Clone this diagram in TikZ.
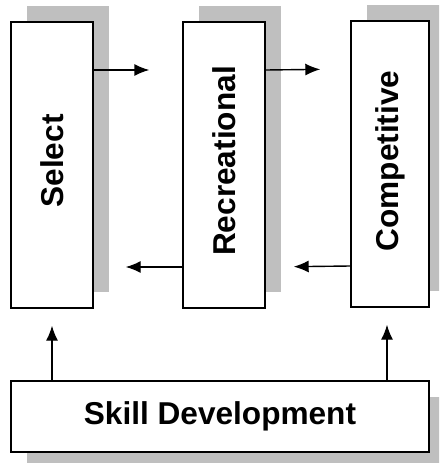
\documentclass[tikz,border=0pt]{standalone}
\usepackage{fontspec}
\setmainfont{Liberation Sans}
\usetikzlibrary{positioning}
\usetikzlibrary{shadows}
\usetikzlibrary{arrows.meta}

\begin{document}
\begin{tikzpicture}[
    x=1pt, y=-1pt,
    font=\fontsize{31.6}{36}\selectfont\bfseries
]
\tikzstyle{stage}=[rectangle, draw, line width=1.4pt, fill=white, minimum width=82pt, minimum height=286pt, inner sep=0pt]
\tikzstyle{shade}=[drop shadow={shadow xshift=16pt, shadow yshift=16pt, fill=black!25, opacity=1}]
\tikzstyle{flow}=[-{Latex[length=15pt, width=12pt]}, line width=1.4pt]

\clip (0,0) rectangle (439,463);
\fill[white] (0,0) rectangle (439,463);

% Stages
\node[stage, shade] (sel) at (52,165) {};
\node[rotate=90] at (52,161) {Select};
\node[stage, shade] (rec) at (224,165) {};
\node[rotate=90] at (224,161) {Recreational};
\node[stage, shade, minimum width=78pt] (com) at (390,164) {};
\node[rotate=90] at (390,161) {Competitive};

% Base
\node[stage, minimum width=418pt, minimum height=71pt,
      drop shadow={shadow xshift=16pt, shadow yshift=-16pt, fill=black!25, opacity=1}] (skill) at (220,416.5) {Skill Development};

% Connections
\draw[flow, shorten >=33pt] ([yshift=95pt]sel.east) -- ([yshift=95pt]rec.west);
\draw[flow, shorten >=30pt] ([yshift=95pt]rec.east) -- ([yshift=95pt]com.west);
\draw[flow, shorten >=28pt] ([yshift=-102pt]com.west) -- ([yshift=-102pt]rec.east);
\draw[flow, shorten >=32pt] ([yshift=-102pt]rec.west) -- ([yshift=-102pt]sel.east);

\draw[flow, shorten >=17pt] (skill.north -| sel.south) -- (sel.south);
\draw[flow, shorten >=17pt] ([xshift=-3pt]skill.north -| com.south) -- ([xshift=-3pt]com.south);

\end{tikzpicture}
\end{document}
